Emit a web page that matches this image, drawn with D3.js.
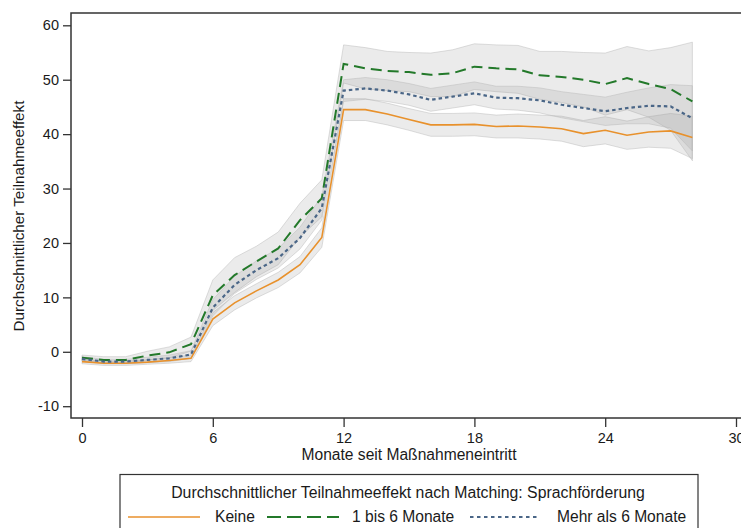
<!DOCTYPE html>
<html>
<head>
<meta charset="utf-8">
<script src="https://cdn.jsdelivr.net/npm/d3@7"></script>
<style>
  body { margin: 0; background: #fff; }
  text { font-family: "Liberation Sans", Arial, sans-serif; fill: #1a1a1a; }
</style>
</head>
<body>
<div id="chart"></div>
<script>
// months since start of measure
var monate = [0,1,2,3,4,5,6,7,8,9,10,11,12,13,14,15,16,17,18,19,20,21,22,23,24,25,26,27,28]

// average effect per group
var keine = [-1.8,-2.1,-2.1,-1.9,-1.6,-1.2,6.0,9.0,11.2,13.2,16.0,21.0,44.5,44.5,43.7,42.7,41.7,41.7,41.8,41.4,41.5,41.3,41.0,40.1,40.7,39.8,40.4,40.6,39.4]
var bisSechs = [-1.1,-1.5,-1.5,-0.7,-0.1,1.4,10.4,14.1,16.6,19.0,24.2,28.2,52.9,52.1,51.6,51.4,50.9,51.2,52.4,52.1,51.9,50.8,50.5,50.0,49.2,50.3,49.2,48.3,46.0]
var mehrSechs = [-1.3,-1.8,-1.8,-1.5,-1.2,-0.5,8.1,12.3,15.0,17.2,20.9,26.4,48.0,48.4,48.0,47.3,46.3,46.9,47.5,46.7,46.6,46.2,45.4,44.8,44.2,44.8,45.2,45.1,42.9]

// half width of the confidence bands
var ciKeine = [0.4,0.4,0.4,0.4,0.5,0.6,1.2,1.3,1.3,1.4,1.5,1.8,2.0,2.0,2.0,2.0,2.1,2.1,2.1,2.1,2.2,2.2,2.3,2.4,2.5,2.6,2.8,3.2,3.9]
var ciBisSechs = [0.5,0.6,0.6,0.8,1.0,1.3,2.8,3.2,2.8,3.0,3.1,3.4,3.5,3.8,3.6,3.6,4.0,4.3,4.2,4.3,4.4,4.4,4.7,5.0,5.7,5.8,6.1,7.6,10.9]
var ciMehrSechs = [0.4,0.4,0.4,0.5,0.6,0.7,1.5,1.6,1.7,1.8,2.0,2.2,2.0,2.0,2.0,2.0,2.1,2.1,2.1,2.1,2.2,2.3,2.4,2.5,2.6,2.9,3.3,4.0,6.0]

var xTicks = [0,6,12,18,24,30]
var yTicks = [-10,0,10,20,30,40,50,60]
var legendNames = ["Keine", "1 bis 6 Monate", "Mehr als 6 Monate"]

var width = 741, height = 528
var plot = {left: 71, top: 13, right: 747, bottom: 418}

var svg = d3.select("#chart").append("svg")
    .attr("width", width)
    .attr("height", height)

var x = d3.scaleLinear().domain([0, 30]).range([82, 736])
var y = d3.scaleLinear().domain([-10, 60]).range([406.2, 25.3])

var series = [
  {name: legendNames[0], values: keine, ci: ciKeine, color: "#e8912c", width: 1.6, dash: null},
  {name: legendNames[1], values: bisSechs, ci: ciBisSechs, color: "#23792a", width: 2, dash: "11,6"},
  {name: legendNames[2], values: mehrSechs, ci: ciMehrSechs, color: "#4a6687", width: 2.2, dash: "3.5,3"}
]

// confidence bands first
var area = d3.area()
    .x(function(d){ return x(d.m) })
    .y0(function(d){ return y(d.v - d.c) })
    .y1(function(d){ return y(d.v + d.c) })

series.forEach(function(s){
  var pts = monate.map(function(m, i){ return {m: m, v: s.values[i], c: s.ci[i]} })
  svg.append("path")
    .datum(pts)
    .attr("d", area)
    .attr("fill", "#9a9a9a")
    .attr("fill-opacity", 0.2)
    .attr("stroke", "#b5b5b5")
    .attr("stroke-opacity", 0.45)
    .attr("stroke-width", 1)
})

var line = d3.line()
    .x(function(d){ return x(d.m) })
    .y(function(d){ return y(d.v) })

series.forEach(function(s){
  var pts = monate.map(function(m, i){ return {m: m, v: s.values[i]} })
  svg.append("path")
    .datum(pts)
    .attr("d", line)
    .attr("fill", "none")
    .attr("stroke", s.color)
    .attr("stroke-width", s.width)
    .attr("stroke-dasharray", s.dash)
})

// frame of the plot region
svg.append("rect")
    .attr("x", plot.left)
    .attr("y", plot.top)
    .attr("width", plot.right - plot.left)
    .attr("height", plot.bottom - plot.top)
    .attr("fill", "none")
    .attr("stroke", "#333")
    .attr("stroke-width", 1.5)

// axes (plain hyphen for negatives, like the original)
var fmt = function(d){ return String(d) }

var yAxis = svg.append("g")
    .attr("transform", "translate(" + plot.left + ",0)")
    .call(d3.axisLeft(y).tickValues(yTicks).tickFormat(fmt).tickSize(8).tickPadding(4))
yAxis.select(".domain").remove()

var xAxis = svg.append("g")
    .attr("transform", "translate(0," + plot.bottom + ")")
    .call(d3.axisBottom(x).tickValues(xTicks).tickFormat(fmt).tickSize(9).tickPadding(6))
xAxis.select(".domain").remove()

svg.selectAll(".tick line").attr("stroke", "#333").attr("stroke-width", 1.3)
svg.selectAll(".tick text").style("font-size", "14.5px").attr("fill", "#1a1a1a")

svg.append("text")
    .attr("x", 409)
    .attr("y", 460)
    .attr("text-anchor", "middle")
    .style("font-size", "15.6px")
    .text("Monate seit Maßnahmeneintritt")

svg.append("text")
    .attr("transform", "translate(24,216) rotate(-90)")
    .attr("text-anchor", "middle")
    .style("font-size", "15.2px")
    .text("Durchschnittlicher Teilnahmeeffekt")

// legend
var lg = svg.append("g")
lg.append("rect")
    .attr("x", 120).attr("y", 474.5)
    .attr("width", 578).attr("height", 70)
    .attr("fill", "#fff")
    .attr("stroke", "#333")
    .attr("stroke-width", 1.2)

lg.append("text")
    .attr("x", 408).attr("y", 498)
    .attr("text-anchor", "middle")
    .style("font-size", "15.8px")
    .text("Durchschnittlicher Teilnahmeeffekt nach Matching: Sprachförderung")

var keyX = [[128, 200, 215], [267, 339, 352], [470, 539, 557]]
series.forEach(function(s, i){
  lg.append("line")
    .attr("x1", keyX[i][0]).attr("x2", keyX[i][1])
    .attr("y1", 517).attr("y2", 517)
    .attr("stroke", s.color)
    .attr("stroke-width", s.width)
    .attr("stroke-dasharray", s.dash ? (i == 1 ? "14,6" : "3.5,3.5") : null)
  lg.append("text")
    .attr("x", keyX[i][2]).attr("y", 522)
    .style("font-size", "15.6px")
    .text(s.name)
})
</script>
</body>
</html>
